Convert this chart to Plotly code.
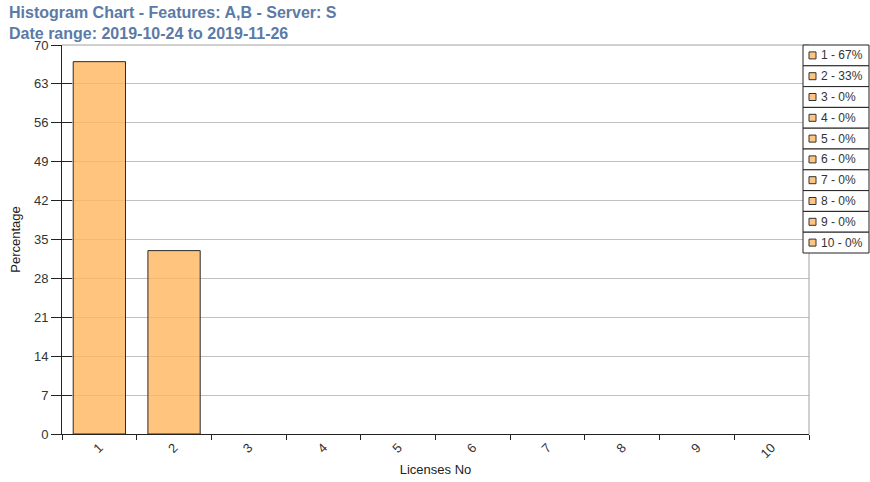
import plotly.graph_objects as go

# data
licenses = ["1", "2", "3", "4", "5", "6", "7", "8", "9", "10"]
percent = [67, 33, 0, 0, 0, 0, 0, 0, 0, 0]
legend_labels = ["1 - 67%", "2 - 33%", "3 - 0%", "4 - 0%", "5 - 0%",
                 "6 - 0%", "7 - 0%", "8 - 0%", "9 - 0%", "10 - 0%"]
y_ticks = [0, 7, 14, 21, 28, 35, 42, 49, 56, 63, 70]

W, H = 870, 482
# plot area in pixels
L, R, T, B = 62, 809, 45, 434
BAR = "rgba(255,183,94,0.8)"
TXT = "#333333"
FONT = "Liberation Sans, Arial"


def px(x):
    return (x - L) / (R - L)


def py(y):
    return (B - y) / (B - T)


fig = go.Figure()
fig.add_trace(go.Bar(
    x=licenses, y=percent,
    marker=dict(color=BAR, line=dict(color="#2b2b2b",
                                     width=[1 if v > 0 else 0 for v in percent])),
    showlegend=False,
))

# invisible trace to put inside ticks on y axis
fig.add_trace(go.Scatter(x=licenses, y=percent, yaxis="y2",
                         mode="none", showlegend=False, hoverinfo="skip"))

shapes = []
annotations = []
# top and right plot border
shapes.append(dict(type="line", xref="paper", yref="paper", x0=0, x1=1, y0=1, y1=1,
                   line=dict(color="#a0a0a0", width=1)))
shapes.append(dict(type="line", xref="paper", yref="paper", x0=1, x1=1, y0=0, y1=1,
                   line=dict(color="#a0a0a0", width=1)))

# legend built from boxes
lx0, lx1, ly0, lh = 803, 869, 45, 20.8
for i, lab in enumerate(legend_labels):
    top = ly0 + i * lh
    bot = top + lh
    shapes.append(dict(type="rect", xref="paper", yref="paper",
                       x0=px(lx0), x1=px(lx1), y0=py(bot), y1=py(top),
                       line=dict(color="#222222", width=1), fillcolor="white"))
    cy = (top + bot) / 2
    shapes.append(dict(type="rect", xref="paper", yref="paper",
                       x0=px(809), x1=px(816), y0=py(cy + 3.5), y1=py(cy - 3.5),
                       line=dict(color="#333333", width=1), fillcolor=BAR))
    annotations.append(dict(text=lab, xref="paper", yref="paper",
                            x=px(819), y=py(cy), xanchor="left", yanchor="middle",
                            showarrow=False,
                            font=dict(family=FONT, size=12, color=TXT)))

# title
annotations.append(dict(
    text="<b>Histogram Chart - Features: A,B - Server: S<br>Date range: 2019-10-24 to 2019-11-26</b>",
    xref="paper", yref="paper", x=px(7), y=py(2), xanchor="left", yanchor="top",
    align="left", showarrow=False,
    font=dict(family=FONT, size=16, color="#5b7aa6"),
))

fig.update_layout(
    width=W, height=H,
    margin=dict(l=L, r=W - R, t=T, b=H - B, pad=0, autoexpand=False),
    paper_bgcolor="white", plot_bgcolor="white",
    bargap=0.3,
    showlegend=False,
    font=dict(family=FONT, size=12, color=TXT),
    xaxis=dict(
        type="category", automargin=False,
        showline=True, linecolor="#222222", linewidth=1,
        ticks="outside", ticklen=5, tickcolor="#222222", tickson="boundaries",
        tickangle=-45, showgrid=False,
        title=dict(text="Licenses No", standoff=4,
                   font=dict(size=13, color="#222222")),
        tickfont=dict(size=13, color=TXT),
    ),
    yaxis=dict(
        range=[0, 70], tickvals=y_ticks, automargin=False,
        showline=True, linecolor="#222222", linewidth=1,
        ticks="outside", ticklen=10, tickcolor="#222222",
        showgrid=True, gridcolor="#c0c0c0", gridwidth=1,
        zeroline=False,
        title=dict(text="Percentage", standoff=10,
                   font=dict(size=13, color="#222222")),
        tickfont=dict(size=13, color=TXT),
    ),
    yaxis2=dict(
        overlaying="y", side="left", range=[0, 70], tickvals=y_ticks,
        ticks="inside", ticklen=10, tickcolor="#222222", automargin=False,
        showticklabels=False, showgrid=False, zeroline=False, showline=False,
    ),
    shapes=shapes,
    annotations=annotations,
)

# drop the default page margin so the figure sits at the window corner
fig.write_html("out.html", config={"displayModeBar": False},
               post_script="document.body.style.margin='0';")
